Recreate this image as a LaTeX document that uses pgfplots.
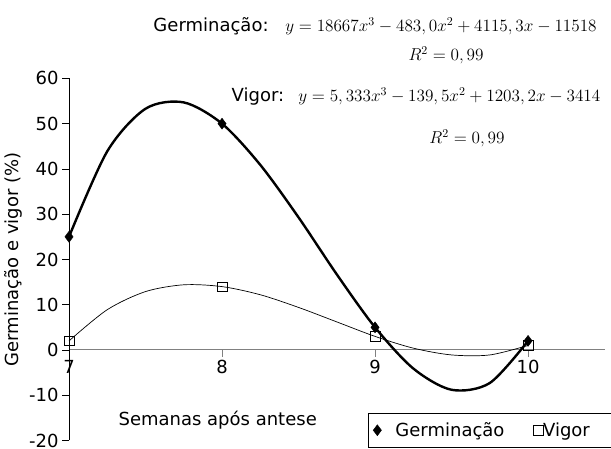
\documentclass[border=0pt]{standalone}
\usepackage{pgfplots}
\pgfplotsset{compat=1.18}
\usepackage{fontspec}
\setmainfont{DejaVu Sans}
\newcommand{\lab}{\fontsize{18}{21}\selectfont}
\newcommand{\eqf}{\fontsize{14.4}{17}\selectfont}
\newcommand{\eq}[1]{{\eqf\scalebox{1.195}{$#1$}}}
\begin{document}
\begin{tikzpicture}
\begin{axis}[
  scale only axis, width=535.5pt, height=362pt,
  xmin=7, xmax=10.5, ymin=-20, ymax=60,
  axis x line*=middle, axis y line*=left,
  xtick={7,8,9,10}, ytick={-20,-10,...,60},
  hide obscured x ticks=false,
  tick align=outside, major tick length=7pt,
  x axis line style={gray, line width=1pt},
  y axis line style={black, line width=0.8pt},
  x tick style={gray, line width=0.8pt},
  y tick style={black, line width=0.8pt},
  tick label style={font=\lab},
  /pgf/number format/assume math mode=true,
  ylabel={Germinação e vigor (\%)},
  ylabel style={font=\lab},
  clip=false,
  legend columns=2,
  legend style={at={(axis cs:8.954,-14.0)}, anchor=north west, draw=black,
    font=\lab, inner xsep=5pt, inner ysep=7pt,
    /tikz/column 1/.style={column sep=12pt},
    /tikz/column 2/.style={column sep=27pt},
    /tikz/column 3/.style={column sep=-2pt}},
]
% fitted curves
\addplot[black, line width=2.4pt, smooth, forget plot] coordinates {
(7,25) (7.25,43.9) (7.5,53.3) (7.75,54.7) (8,50) (8.25,40.9) (8.5,29.3)
(8.75,16.7) (9,5) (9.25,-4.1) (9.5,-8.8) (9.75,-7.3) (10,2)};
\addplot[black, line width=0.7pt, smooth, forget plot] coordinates {
(7,2) (7.25,8.9) (7.5,12.9) (7.75,14.4) (8,14) (8.25,12.2) (8.5,9.4)
(8.75,6.2) (9,3) (9.25,0.4) (9.5,-1.1) (9.75,-1.1) (10,1)};
% observed points
\addplot[only marks, mark=diamond*, mark size=5.5pt, black] coordinates {(7,25) (8,50) (9,5) (10,2)};
\addlegendentry{Germinação}
\addplot[only marks, mark=square, mark size=4.8pt, black, mark options={fill=white, line width=0.6pt}] coordinates {(7,2) (8,14) (9,3) (10,1)};
\addlegendentry{Vigor\hspace*{20pt}\rule[-14pt]{0pt}{1pt}}
\node[anchor=base west, font=\lab] at (axis cs:7.529,70.4) {Germinação:};
\node[anchor=base west, inner sep=0pt] at (axis cs:8.412,70.4) {\eq{y=18667x^3-483,0x^2+4115,3x-11518}};
\node[anchor=base] at (axis cs:9.464,64.0) {\eq{R^2=0,99}};
\node[anchor=base west, font=\lab] at (axis cs:8.04,54.9) {Vigor:};
\node[anchor=base west, inner sep=0pt] at (axis cs:8.497,54.9) {\eq{y=5,333x^3-139,5x^2+1203,2x-3414}};
\node[anchor=base] at (axis cs:9.601,45.6) {\eq{R^2=0,99}};
\node[anchor=base west, font=\lab] at (axis cs:7.301,-16.7) {Semanas após antese};
\coordinate (bbA) at (axis cs:6.549,77.33);
\coordinate (bbB) at (axis cs:10.542,-21.7);
\end{axis}
\pgfresetboundingbox
\path[use as bounding box] (bbA) rectangle (bbB);
\end{tikzpicture}
\end{document}
